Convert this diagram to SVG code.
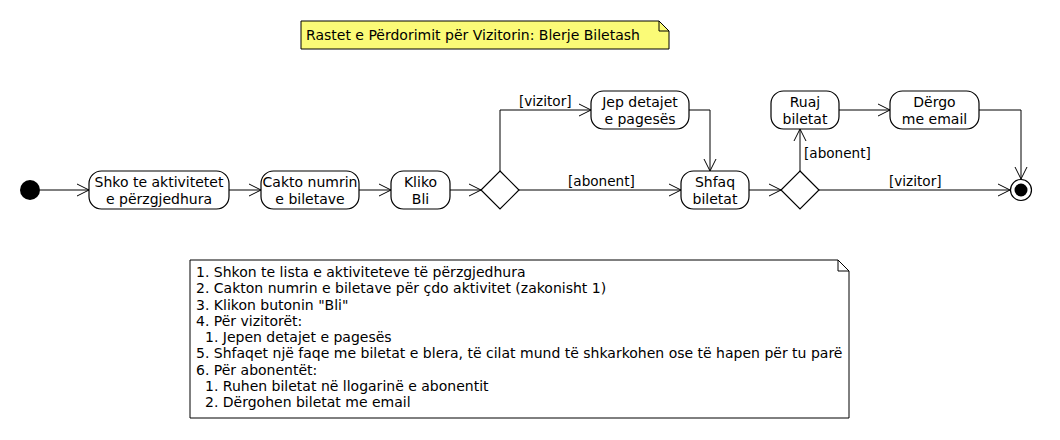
<svg xmlns="http://www.w3.org/2000/svg" width="1060" height="440" viewBox="0 0 1060 440">
<style>
text{font-family:"DejaVu Sans","Liberation Sans",sans-serif;fill:#000}
.n{font-size:14px;text-anchor:middle}
.l{font-size:13.6px}
.note{font-size:14px}
.box{fill:#fff;stroke:#000;stroke-width:1.2}
.c{fill:none;stroke:#000;stroke-width:1}
</style>
<defs>
<marker id="a" markerUnits="userSpaceOnUse" markerWidth="16" markerHeight="16" viewBox="-14 -8 16 16" refX="0" refY="0" orient="auto">
<path d="M-12,-6 L0,0 L-12,6" fill="none" stroke="#000" stroke-width="1"/>
</marker>
</defs>
<rect width="1060" height="440" fill="#fff"/>

<g id="title-note">
<path d="M301,21 L659,21 L669,31 L669,49 L301,49 Z" fill="#FBFB77" stroke="#000" stroke-width="1"/>
<path d="M659,21 L659,31 L669,31" fill="none" stroke="#000" stroke-width="1"/>
<text x="306" y="39.5" style="font-size:14px">Rastet e Përdorimit për Vizitorin: Blerje Biletash</text>
</g>

<g id="connectors">
<path class="c" d="M40,190 L89,190" marker-end="url(#a)"/>
<path class="c" d="M229,190 L261,190" marker-end="url(#a)"/>
<path class="c" d="M359,190 L391,190" marker-end="url(#a)"/>
<path class="c" d="M450,190 L481,190" marker-end="url(#a)"/>
<path class="c" d="M500,171 L500,110 L591,110" marker-end="url(#a)"/>
<text class="l" x="519" y="105.5">[vizitor]</text>
<path class="c" d="M519,190 L681,190" marker-end="url(#a)"/>
<text class="l" x="568" y="186">[abonent]</text>
<path class="c" d="M689,110 L710,110 L710,171" marker-end="url(#a)"/>
<path class="c" d="M749,190 L781,190" marker-end="url(#a)"/>
<path class="c" d="M800,171 L800,129" marker-end="url(#a)"/>
<text class="l" x="804" y="157.5">[abonent]</text>
<path class="c" d="M839,110 L890,110" marker-end="url(#a)"/>
<path class="c" d="M979,110 L1021,110 L1021,179" marker-end="url(#a)"/>
<path class="c" d="M819,190 L1010,190" marker-end="url(#a)"/>
<text class="l" x="889" y="186">[vizitor]</text>
</g>

<g id="start"><circle cx="30" cy="190" r="10" fill="#000"/></g>

<g id="shko">
<rect class="box" x="89" y="171" width="140" height="38" rx="12.5"/>
<text class="n" x="159" y="187">Shko te aktivitetet</text>
<text class="n" x="159" y="203.5">e përzgjedhura</text>
</g>

<g id="cakto">
<rect class="box" x="261" y="171" width="98" height="38" rx="12.5"/>
<text class="n" x="310" y="187">Cakto numrin</text>
<text class="n" x="310" y="203.5">e biletave</text>
</g>

<g id="kliko">
<rect class="box" x="391" y="171" width="59" height="38" rx="12.5"/>
<text class="n" x="420.5" y="187">Kliko</text>
<text class="n" x="420.5" y="203.5">Bli</text>
</g>

<g id="decision1">
<path d="M500,171 L519,190 L500,209 L481,190 Z" fill="#fff" stroke="#000" stroke-width="1.2"/>
</g>

<g id="jep">
<rect class="box" x="591" y="91" width="98" height="38" rx="12.5"/>
<text class="n" x="640" y="107">Jep detajet</text>
<text class="n" x="640" y="123.5">e pagesës</text>
</g>

<g id="shfaq">
<rect class="box" x="681" y="171" width="68" height="38" rx="12.5"/>
<text class="n" x="715" y="187">Shfaq</text>
<text class="n" x="715" y="203.5">biletat</text>
</g>

<g id="decision2">
<path d="M800,171 L819,190 L800,209 L781,190 Z" fill="#fff" stroke="#000" stroke-width="1.2"/>
</g>

<g id="ruaj">
<rect class="box" x="771" y="91" width="68" height="38" rx="12.5"/>
<text class="n" x="805" y="107">Ruaj</text>
<text class="n" x="805" y="123.5">biletat</text>
</g>

<g id="dergo">
<rect class="box" x="890" y="91" width="89" height="38" rx="12.5"/>
<text class="n" x="934.5" y="107">Dërgo</text>
<text class="n" x="934.5" y="123.5">me email</text>
</g>

<g id="end">
<circle cx="1021" cy="190" r="10.5" fill="#fff" stroke="#000" stroke-width="1.2"/>
<circle cx="1021" cy="190" r="6.5" fill="#000"/>
</g>

<g id="steps-note">
<path d="M190,260 L838,260 L849,271 L849,418 L190,418 Z" fill="#fff" stroke="#000" stroke-width="1"/>
<path d="M838,260 L838,271 L849,271" fill="none" stroke="#000" stroke-width="1"/>
<text class="note" x="196" y="277">1. Shkon te lista e aktiviteteve të përzgjedhura</text>
<text class="note" x="196" y="293.3">2. Cakton numrin e biletave për çdo aktivitet (zakonisht 1)</text>
<text class="note" x="196" y="309.5">3. Klikon butonin "Bli"</text>
<text class="note" x="196" y="325.8">4. Për vizitorët:</text>
<text class="note" x="205" y="342">1. Jepen detajet e pagesës</text>
<text class="note" x="196" y="358.3">5. Shfaqet një faqe me biletat e blera, të cilat mund të shkarkohen ose të hapen për tu parë</text>
<text class="note" x="196" y="374.5">6. Për abonentët:</text>
<text class="note" x="205" y="390.8">1. Ruhen biletat në llogarinë e abonentit</text>
<text class="note" x="205" y="407">2. Dërgohen biletat me email</text>
</g>
</svg>
